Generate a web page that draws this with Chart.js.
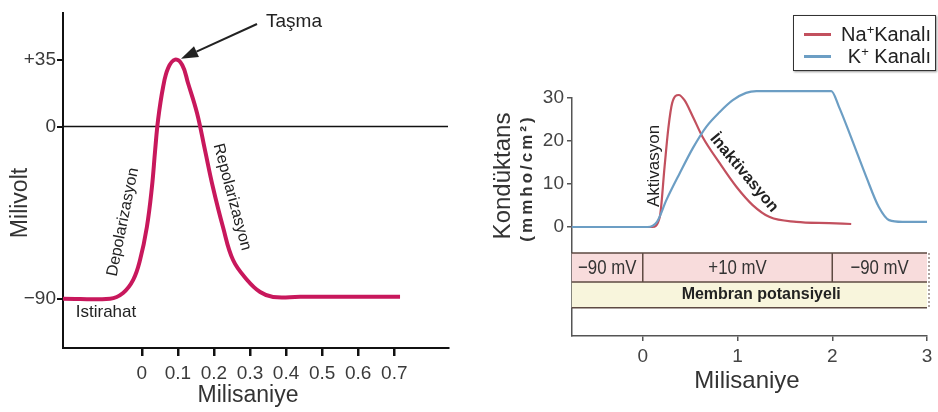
<!DOCTYPE html>
<html>
<head>
<meta charset="utf-8">
<script src="https://cdn.jsdelivr.net/npm/chart.js@4.4.1/dist/chart.umd.min.js"></script>
<style>
  body { margin: 0; background: #fff; }
  #wrap { position: relative; width: 938px; height: 412px; overflow: hidden; }
  canvas { position: absolute; top: 0; }
  #legend { position: absolute; left: 793px; top: 15px; width: 141px; height: 54px;
            border: 1.5px solid #333; box-shadow: 1px 1px 2px #999; background: #fff;
            font: 20px "Liberation Sans", Arial, sans-serif; color: #222; }
  #legend .row { position: absolute; left: 0; right: 0; height: 22px; }
  #legend .swatch { position: absolute; left: 10px; top: 10px; width: 27px; height: 3px; }
  #legend .txt { position: absolute; right: 4px; top: 0; line-height: 22px; white-space: nowrap; }
  #legend sup { font-size: 13px; vertical-align: 7px; line-height: 0; }
</style>
</head>
<body>
<div id="wrap">
  <canvas id="left" width="470" height="412" style="left:0"></canvas>
  <canvas id="right" width="468" height="412" style="left:470px"></canvas>
  <div id="legend"></div>
</div>
<script>
// aksiyon potansiyeli (sol grafik)
const apTime = [-0.219, -0.088, -0.052, -0.024, -0.005, 0.014, 0.028, 0.037, 0.045, 0.059, 0.073, 0.092,
                0.112, 0.128, 0.153, 0.175, 0.197, 0.225, 0.253, 0.292, 0.328, 0.364, 0.439, 0.716];
const apVoltage = [-90, -90, -87, -80.2, -69.8, -52.5, -31.6, -12.2, 3.5, 20.7, 30.6, 35,
                   32.2, 22.8, 7.1, -12.2, -31.6, -52.5, -69.8, -80.2, -86.5, -89.1, -89, -89];
const leftXTicks = [0, 0.1, 0.2, 0.3, 0.4, 0.5, 0.6, 0.7];
const leftYTicks = [-90, 0, 35];

// kanal kondüktansi (sag grafik)
const naTime = [-0.75, 0.1, 0.18, 0.23, 0.27, 0.31, 0.38, 0.44, 0.53, 0.63, 0.81, 0.99, 1.16, 1.34, 1.62, 1.97, 2.2];
const naG = [0, 0, 2.4, 14, 23, 28.8, 30.7, 29.5, 25.6, 21, 14.9, 9.3, 5.1, 2.3, 1.2, 0.9, 0.7];
const kTime = [-0.75, 0.05, 0.15, 0.25, 0.39, 0.53, 0.67, 0.81, 0.95, 1.09, 1.2, 1.99, 2.07, 2.21, 2.36, 2.49, 2.6, 2.74, 3.0];
const kG = [0, 0, 1.2, 6.3, 12.5, 18.4, 23.3, 26.7, 29.5, 31.2, 31.6, 31.6, 28, 20.2, 11.6, 4.7, 1.6, 1.2, 1.2];
const rightXTicks = [0, 1, 2, 3];
const rightYTicks = [0, 10, 20, 30];

// membran potansiyeli adimlari
const stepBounds = [-0.75, 0, 2, 3];
const stepLabels = ['\u221290 mV', '+10 mV', '\u221290 mV'];

const seriesNames = ['Na<sup>+</sup>Kanalı', 'K<sup>+</sup> Kanalı'];
const seriesColors = ['#c2505e', '#6c9ec4'];

const SANS = '"Liberation Sans", Arial, sans-serif';

function pts(xs, ys) { return xs.map((x, i) => ({ x: x, y: ys[i] })); }
function minus(v) { return String(v).replace('-', '\u2212'); }

function rotText(ctx, text, cx, cy, angle, sx) {
  ctx.save();
  ctx.translate(cx, cy);
  ctx.rotate(angle);
  if (sx) ctx.scale(sx, 1);
  ctx.textAlign = 'center';
  ctx.textBaseline = 'middle';
  ctx.fillText(text, 0, 0);
  ctx.restore();
}

const leftDecor = {
  id: 'leftDecor',
  beforeDatasetsDraw(chart) {
    const { ctx, chartArea: a, scales: { y } } = chart;
    const py = y.getPixelForValue(0);
    ctx.save();
    ctx.strokeStyle = '#111';
    ctx.lineWidth = 1.5;
    ctx.beginPath();
    ctx.moveTo(a.left, py);
    ctx.lineTo(a.right, py);
    ctx.stroke();
    ctx.restore();
  },
  afterDraw(chart) {
    const { ctx, scales: { x, y } } = chart;
    ctx.save();
    ctx.fillStyle = '#333';
    ctx.font = '23px ' + SANS;
    rotText(ctx, 'Milivolt', 21, 203, -Math.PI / 2);
    rotText(ctx, 'Milisaniye', 248, 396, 0);

    ctx.fillStyle = '#222';
    ctx.font = '16px ' + SANS;
    rotText(ctx, 'Depolarizasyon', 123, 222, -78.7 * Math.PI / 180);
    rotText(ctx, 'Repolarizasyon', 232, 197, 74.9 * Math.PI / 180);
    ctx.font = '17px ' + SANS;
    rotText(ctx, 'Istirahat', 106, 312, 0);
    ctx.font = '19px ' + SANS;
    ctx.textAlign = 'left';
    ctx.textBaseline = 'middle';
    ctx.fillText('Taşma', 266, 22);

    // ok: tepe noktasini gosterir
    const pk = apVoltage.indexOf(Math.max(...apVoltage));
    const tx = x.getPixelForValue(apTime[pk]) + 6, ty = y.getPixelForValue(apVoltage[pk]) - 1;
    const sx = 257, sy = 24;
    const ang = Math.atan2(ty - sy, tx - sx);
    const hl = 17, hw = 6;
    const bx = tx - hl * Math.cos(ang), by = ty - hl * Math.sin(ang);
    ctx.strokeStyle = '#222';
    ctx.lineWidth = 2;
    ctx.beginPath();
    ctx.moveTo(sx, sy);
    ctx.lineTo(bx, by);
    ctx.stroke();
    ctx.beginPath();
    ctx.moveTo(tx, ty);
    ctx.lineTo(bx + hw * Math.sin(ang), by - hw * Math.cos(ang));
    ctx.lineTo(bx - hw * Math.sin(ang), by + hw * Math.cos(ang));
    ctx.closePath();
    ctx.fill();
    ctx.restore();
  }
};

new Chart(document.getElementById('left'), {
  type: 'line',
  data: {
    datasets: [{
      label: 'Membran potansiyeli',
      data: pts(apTime, apVoltage),
      borderColor: '#c8185c',
      borderWidth: 4,
      pointRadius: 0,
      tension: 0.4,
      fill: false
    }]
  },
  options: {
    responsive: false,
    animation: false,
    events: [],
    layout: { padding: { top: 13, right: 22, left: 0, bottom: 0 } },
    plugins: { legend: { display: false }, tooltip: { enabled: false } },
    scales: {
      x: {
        type: 'linear', min: -0.2186, max: 0.849,
        afterFit: s => { s.height = 64; },
        afterBuildTicks: s => { s.ticks = leftXTicks.map(v => ({ value: v })); },
        grid: { drawOnChartArea: false, color: '#111', lineWidth: 2.5, tickLength: 8 },
        border: { color: '#111', width: 2 },
        ticks: { padding: 6, color: '#3a3a3a', font: { family: SANS, size: 19 }, maxRotation: 0, autoSkip: false,
                 callback: v => v === 0 ? '0' : v.toFixed(1) }
      },
      y: {
        type: 'linear', min: -115.8, max: 59.4,
        afterFit: s => { s.width = 63; },
        afterBuildTicks: s => { s.ticks = leftYTicks.map(v => ({ value: v })); },
        grid: { drawOnChartArea: false, color: '#111', lineWidth: 2, tickLength: 6 },
        border: { color: '#111', width: 2 },
        ticks: { padding: 1, color: '#3a3a3a', font: { family: SANS, size: 19 },
                 callback: v => v > 0 ? '+' + v : minus(v) }
      }
    }
  },
  plugins: [leftDecor]
});

const rightDecor = {
  id: 'rightDecor',
  beforeDatasetsDraw(chart) {
    const { ctx, scales: { x, y } } = chart;
    const r1 = y.getPixelForValue(-6.05), r2 = y.getPixelForValue(-12.8), r3 = y.getPixelForValue(-18.8);
    const x0 = x.getPixelForValue(stepBounds[0]), x1 = x.getPixelForValue(stepBounds[stepBounds.length - 1]);
    ctx.save();
    ctx.fillStyle = '#f8dcdc';
    ctx.fillRect(x0, r1, x1 - x0, r2 - r1);
    ctx.fillStyle = '#f8f5dc';
    ctx.fillRect(x0, r2, x1 - x0, r3 - r2);
    ctx.strokeStyle = '#5e4a42';
    ctx.lineWidth = 1.5;
    ctx.beginPath();
    [r1, r2, r3].forEach(r => { ctx.moveTo(x0, r); ctx.lineTo(x1, r); });
    stepBounds.slice(1, -1).forEach(b => {
      const bx = x.getPixelForValue(b);
      ctx.moveTo(bx, r1); ctx.lineTo(bx, r2);
    });
    ctx.stroke();
    ctx.setLineDash([2, 2]);
    ctx.lineWidth = 1;
    ctx.beginPath();
    ctx.moveTo(x1 + 2, r1); ctx.lineTo(x1 + 2, r3);
    ctx.stroke();
    ctx.setLineDash([]);

    ctx.fillStyle = '#333';
    ctx.font = '21px ' + SANS;
    stepLabels.forEach((t, i) => {
      const cx = (x.getPixelForValue(stepBounds[i]) + x.getPixelForValue(stepBounds[i + 1])) / 2;
      rotText(ctx, t, cx, (r1 + r2) / 2 + 1, 0, 0.8);
    });
    ctx.fillStyle = '#222';
    ctx.font = 'bold 16px ' + SANS;
    rotText(ctx, 'Membran potansiyeli', x.getPixelForValue(1.25), (r2 + r3) / 2, 0);
    ctx.restore();
  },
  afterDraw(chart) {
    const { ctx } = chart;
    ctx.save();
    ctx.fillStyle = '#333';
    ctx.font = '24px ' + SANS;
    rotText(ctx, 'Kondüktans', 33, 176, -Math.PI / 2);
    rotText(ctx, 'Milisaniye', 277, 381, 0);
    ctx.font = 'bold 17px ' + SANS;
    ctx.letterSpacing = '3px';
    rotText(ctx, '(mmho/cm²)', 57, 178, -Math.PI / 2);
    ctx.letterSpacing = '0px';
    ctx.fillStyle = '#222';
    ctx.font = '17px ' + SANS;
    rotText(ctx, 'Aktivasyon', 184, 166, -Math.PI / 2);
    ctx.font = 'bold 16px ' + SANS;
    rotText(ctx, 'İnaktivasyon', 274, 173, 50 * Math.PI / 180);
    ctx.restore();
  }
};

new Chart(document.getElementById('right'), {
  type: 'line',
  data: {
    datasets: [{
      label: 'K+ Kanalı',
      data: pts(kTime, kG),
      borderColor: seriesColors[1],
      borderWidth: 2.2,
      pointRadius: 0,
      cubicInterpolationMode: 'monotone',
      clip: false,
      fill: false
    }, {
      label: 'Na+ Kanalı',
      data: pts(naTime, naG),
      borderColor: seriesColors[0],
      borderWidth: 2.2,
      pointRadius: 0,
      cubicInterpolationMode: 'monotone',
      clip: false,
      fill: false
    }]
  },
  options: {
    responsive: false,
    animation: false,
    events: [],
    layout: { padding: { top: 98, right: 11, left: 0, bottom: 0 } },
    plugins: { legend: { display: false }, tooltip: { enabled: false } },
    scales: {
      x: {
        type: 'linear', min: -0.747, max: 3,
        afterFit: s => { s.height = 76; },
        afterBuildTicks: s => { s.ticks = rightXTicks.map(v => ({ value: v })); },
        grid: { drawOnChartArea: false, color: '#555', lineWidth: 1.5, tickLength: 5 },
        border: { color: '#555', width: 1.5 },
        ticks: { padding: 4, color: '#444', font: { family: SANS, size: 19 }, maxRotation: 0, autoSkip: false }
      },
      y: {
        type: 'linear', min: -25.35, max: 30,
        afterFit: s => { s.width = 102; },
        afterBuildTicks: s => { s.ticks = rightYTicks.map(v => ({ value: v })); },
        grid: { drawOnChartArea: false, color: '#555', lineWidth: 1.5, tickLength: 5 },
        border: { color: '#555', width: 1.5 },
        ticks: { padding: 3, color: '#444', font: { family: SANS, size: 19 } }
      }
    }
  },
  plugins: [rightDecor]
});

const legend = document.getElementById('legend');
seriesNames.forEach((name, i) => {
  const row = document.createElement('div');
  row.className = 'row';
  row.style.top = (7 + i * 22) + 'px';
  row.innerHTML = '<span class="swatch" style="background:' + seriesColors[i] + '"></span><span class="txt">' + name + '</span>';
  legend.appendChild(row);
});
</script>
</body>
</html>
